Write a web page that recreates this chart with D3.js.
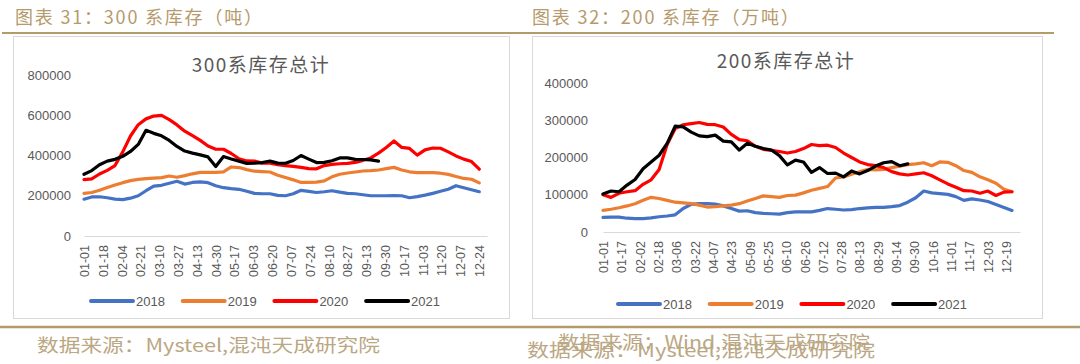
<!DOCTYPE html>
<html><head><meta charset="utf-8">
<script src="https://cdn.jsdelivr.net/npm/d3@7/dist/d3.min.js"></script>
<style>
html,body{margin:0;padding:0;background:#fff;}
svg{display:block;}
</style></head>
<body>
<svg id="c" width="1080" height="364"></svg>
<script>
// ---------- data ----------
const seriesNames = ["2018", "2019", "2020", "2021"];
const seriesColors = ["#4472C4", "#ED7D31", "#FF0000", "#000000"];

// 300系 (tons), weekly from 01-01
const s300_2018 = [183000,194000,195000,190000,183000,181000,188000,200000,225000,248000,252000,262000,272000,258000,266000,269000,265000,250000,240000,235000,232000,222000,212000,210000,210000,202000,200000,210000,227000,222000,216000,220000,225000,218000,212000,210000,205000,200000,200000,200000,201000,200000,190000,196000,203000,212000,222000,232000,250000,240000,230000,220000];
const s300_2019 = [212000,216000,227000,241000,253000,265000,275000,281000,285000,288000,290000,298000,292000,300000,309000,316000,316000,316000,319000,343000,340000,330000,322000,320000,318000,302000,291000,279000,266000,266000,268000,274000,294000,307000,313000,318000,323000,325000,328000,335000,341000,328000,319000,315000,315000,315000,312000,306000,296000,286000,282000,264000];
const s300_2020 = [280000,284000,308000,326000,350000,418000,497000,553000,582000,596000,599000,578000,552000,521000,499000,475000,447000,431000,431000,410000,384000,373000,372000,362000,362000,355000,350000,346000,341000,335000,334000,350000,356000,359000,361000,366000,376000,388000,412000,440000,472000,440000,435000,402000,428000,437000,436000,418000,398000,382000,370000,332000];
const s300_2021 = [307000,325000,354000,372000,381000,396000,420000,455000,525000,510000,498000,475000,445000,422000,412000,403000,393000,345000,395000,383000,372000,361000,362000,365000,372000,362000,361000,375000,400000,382000,365000,366000,374000,388000,388000,381000,380000,378000,372000];

// 200系 (tons), weekly from 01-01
const s200_2018 = [39000,40000,40000,37000,36000,36000,38000,41000,43000,46000,63000,74000,76000,76000,75000,70000,63000,56000,57000,52000,50000,49000,48000,52000,54000,54000,54000,58000,63000,61000,59000,60000,63000,65000,66000,66000,68000,71000,80000,92000,110000,105000,103000,101000,95000,85000,89000,86000,82000,74000,66000,58000];
const s200_2019 = [58000,61000,65000,70000,76000,85000,93000,90000,85000,80000,78000,76000,72000,67000,68000,70000,72000,76000,83000,90000,97000,95000,93000,98000,99000,105000,112000,117000,122000,145000,148000,155000,162000,168000,167000,168000,173000,177000,181000,183000,186000,178000,188000,187000,178000,165000,160000,148000,140000,131000,115000,108000];
const s200_2020 = [100000,93000,104000,108000,111000,128000,140000,168000,235000,278000,288000,291000,294000,289000,288000,282000,262000,248000,245000,230000,222000,219000,216000,212000,216000,224000,235000,232000,233000,227000,212000,200000,188000,181000,178000,173000,162000,156000,153000,156000,159000,151000,140000,129000,120000,111000,110000,104000,110000,98000,107000,108000];
const s200_2021 = [102000,110000,108000,126000,141000,170000,188000,206000,238000,284000,282000,268000,258000,256000,260000,244000,242000,220000,238000,230000,224000,220000,205000,180000,193000,188000,160000,173000,157000,158000,148000,164000,156000,165000,177000,186000,189000,178000,183000];

// tick labels
const ticks300 = ["01-01","01-18","02-04","02-21","03-10","03-27","04-13","04-30","05-17","06-03","06-20","07-07","07-24","08-10","08-27","09-13","09-30","10-17","11-03","11-20","12-07","12-24"];
const ticks200 = ["01-01","01-17","02-02","02-18","03-06","03-22","04-07","04-23","05-09","05-25","06-10","06-26","07-12","07-28","08-13","08-29","09-14","09-30","10-16","11-01","11-17","12-03","12-19"];
const yTicks300 = [0,200000,400000,600000,800000];
const yTicks200 = [0,100000,200000,300000,400000];

// ---------- helpers ----------
const parse = d3.timeParse("%Y-%m-%d");
const dayOfYear = lbl => { const d = parse("2019-" + lbl); return d3.timeDay.count(d3.timeYear(d), d); };
const weekDay = i => i * 7;

const svg = d3.select("#c");
const GOLD = "#b59a6c";
const GREY = "#595959";

// header lines
svg.append("line").attr("x1", 2).attr("x2", 1054).attr("y1", 33).attr("y2", 33)
  .attr("stroke", GOLD).attr("stroke-width", 2);
svg.append("line").attr("x1", 0).attr("x2", 1080).attr("y1", 327).attr("y2", 327)
  .attr("stroke", GOLD).attr("stroke-width", 2.5);

// headers
const hdrFont = "'Noto Sans CJK SC', 'Noto Sans', sans-serif";
svg.append("text").attr("x", 15).attr("y", 24).attr("font-family", hdrFont)
  .attr("font-size", 18).attr("letter-spacing", 1.8).attr("fill", GOLD).text("图表 31：300 系库存（吨）");
svg.append("text").attr("x", 532).attr("y", 24).attr("font-family", hdrFont)
  .attr("font-size", 18).attr("letter-spacing", 1.8).attr("fill", GOLD).text("图表 32：200 系库存（万吨）");

// sources
const SRC = "#bba783";
svg.append("text").attr("x", 37).attr("y", 352).attr("font-family", hdrFont)
  .attr("font-size", 18).attr("fill", SRC).attr("textLength", 343).attr("lengthAdjust", "spacingAndGlyphs")
  .text("数据来源：Mysteel,混沌天成研究院");
svg.append("text").attr("x", 558).attr("y", 349).attr("font-family", hdrFont)
  .attr("font-size", 18).attr("fill", SRC).attr("textLength", 312).attr("lengthAdjust", "spacingAndGlyphs")
  .text("数据来源：Wind,混沌天成研究院");
svg.append("text").attr("x", 527).attr("y", 357).attr("font-family", hdrFont)
  .attr("font-size", 18).attr("fill", SRC).attr("textLength", 348).attr("lengthAdjust", "spacingAndGlyphs")
  .text("数据来源：Mysteel,混沌天成研究院");

function drawChart(cfg) {
  const g = svg.append("g");
  g.append("rect").attr("x", cfg.box[0] + 0.5).attr("y", cfg.box[1] + 0.5)
    .attr("width", cfg.box[2]).attr("height", cfg.box[3])
    .attr("fill", "#fff").attr("stroke", "#d9d9d9").attr("stroke-width", 1);

  const x = d3.scaleLinear().domain([0, 364]).range(cfg.xr);
  const y = d3.scaleLinear().domain(cfg.yd).range(cfg.yr);

  // title
  g.append("text").attr("x", cfg.title[1]).attr("y", cfg.title[2])
    .attr("text-anchor", "middle").attr("font-family", "'Noto Sans CJK SC', sans-serif")
    .attr("font-size", 19).attr("fill", GREY).attr("dominant-baseline", "middle")
    .attr("letter-spacing", 1.5).text(cfg.title[0]);

  // y axis
  const ya = g.append("g").attr("transform", `translate(${cfg.xr[0]},0)`)
    .call(d3.axisLeft(y).tickValues(cfg.yTicks).tickSize(0).tickPadding(cfg.yPad).tickFormat(d3.format("d")));
  ya.select(".domain").remove();
  ya.selectAll("text").attr("font-family", "'Liberation Sans', Arial, sans-serif")
    .attr("font-size", 13).attr("fill", GREY);

  // x axis
  const xa = g.append("g").attr("transform", `translate(0,${cfg.yr[0]})`)
    .call(d3.axisBottom(x).tickValues(cfg.ticks.map(dayOfYear)).tickSize(0).tickSizeOuter(0)
      .tickFormat((d, i) => cfg.ticks[i]));
  xa.select(".domain").attr("stroke", "#d9d9d9").attr("stroke-width", 1);
  xa.selectAll("text").attr("font-family", "'Liberation Sans', Arial, sans-serif")
    .attr("font-size", 12.5).attr("fill", GREY)
    .attr("transform", "rotate(-90)").attr("text-anchor", "end")
    .attr("x", -9).attr("y", 0).attr("dy", "0.35em");

  // lines
  const line = d3.line().x((d, i) => x(weekDay(i))).y(d => y(d));
  cfg.series.forEach((s, k) => {
    g.append("path").datum(s).attr("d", line).attr("fill", "none")
      .attr("stroke", seriesColors[k]).attr("stroke-width", 3.2)
      .attr("stroke-linejoin", "round").attr("stroke-linecap", "round");
  });

  // legend
  seriesNames.forEach((n, k) => {
    const lx = cfg.leg[0] + k * cfg.leg[2];
    g.append("line").attr("x1", lx).attr("x2", lx + 42).attr("y1", cfg.leg[1]).attr("y2", cfg.leg[1])
      .attr("stroke", seriesColors[k]).attr("stroke-width", 4).attr("stroke-linecap", "round");
    g.append("text").attr("x", lx + 45).attr("y", cfg.leg[1]).attr("dy", "0.35em")
      .attr("font-family", "'Liberation Sans', Arial, sans-serif").attr("font-size", 13)
      .attr("fill", GREY).text(n);
  });
}

drawChart({
  box: [13, 36, 496, 282],
  xr: [84, 487], yd: [0, 800000], yr: [236, 75],
  yTicks: yTicks300, yPad: 13, ticks: ticks300,
  title: ["300系库存总计", 261, 67],
  series: [s300_2018, s300_2019, s300_2020, s300_2021],
  leg: [91, 301, 91.7]
});
drawChart({
  box: [532, 36, 510, 282],
  xr: [603, 1020], yd: [0, 400000], yr: [232, 83],
  yTicks: yTicks200, yPad: 15, ticks: ticks200,
  title: ["200系库存总计", 786, 63],
  series: [s200_2018, s200_2019, s200_2020, s200_2021],
  leg: [618, 304, 91.7]
});
</script>
</body></html>
